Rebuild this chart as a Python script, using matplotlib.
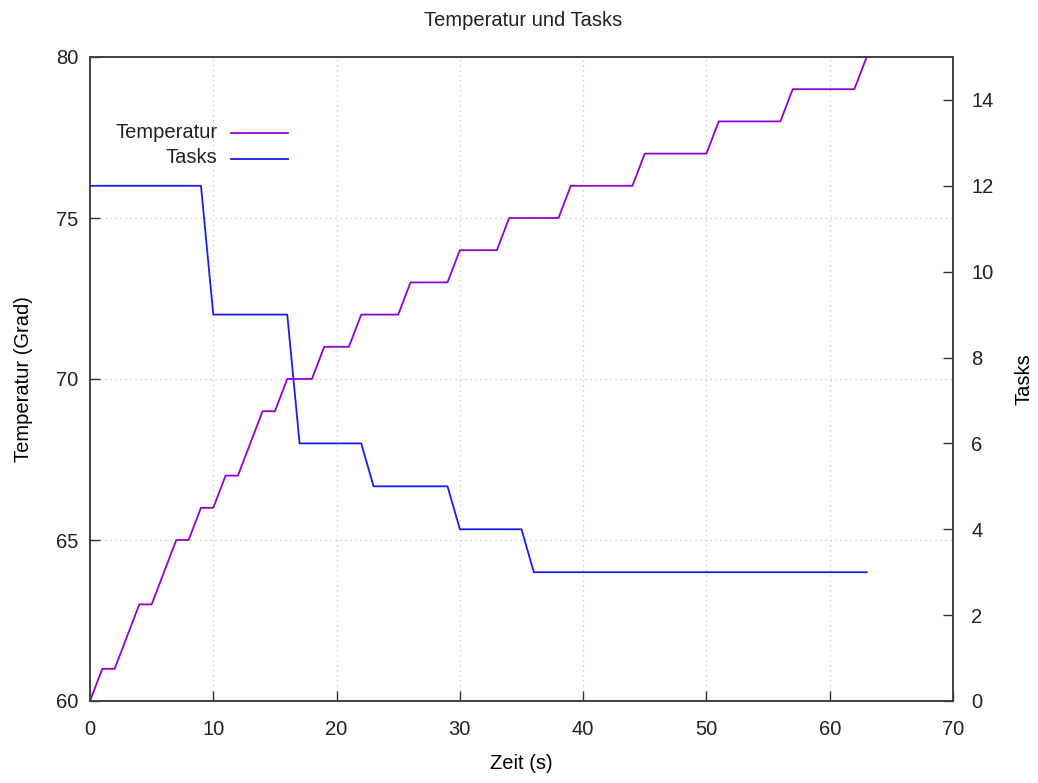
import numpy as np
import matplotlib.pyplot as plt
from matplotlib.lines import Line2D

# Zeit in Sekunden, ein Messwert pro Sekunde
zeit = list(range(0, 64))
temperatur = [60, 61, 61, 62, 63, 63, 64, 65, 65, 66,
              66, 67, 67, 68, 69, 69, 70, 70, 70, 71,
              71, 71, 72, 72, 72, 72, 73, 73, 73, 73,
              74, 74, 74, 74, 75, 75, 75, 75, 75, 76,
              76, 76, 76, 76, 76, 77, 77, 77, 77, 77,
              77, 78, 78, 78, 78, 78, 78, 79, 79, 79,
              79, 79, 79, 80]
tasks = [12, 12, 12, 12, 12, 12, 12, 12, 12, 12,
         9, 9, 9, 9, 9, 9, 9, 6, 6, 6,
         6, 6, 6, 5, 5, 5, 5, 5, 5, 5,
         4, 4, 4, 4, 4, 4, 3, 3, 3, 3,
         3, 3, 3, 3, 3, 3, 3, 3, 3, 3,
         3, 3, 3, 3, 3, 3, 3, 3, 3, 3,
         3, 3, 3, 3]

x_ticks = [0, 10, 20, 30, 40, 50, 60, 70]
y1_ticks = [60, 65, 70, 75, 80]
y2_ticks = [0, 2, 4, 6, 8, 10, 12, 14]

col_temp = '#9400d3'
col_tasks = '#1c1cf5'

plt.rcParams['font.family'] = ['Liberation Sans', 'DejaVu Sans']
plt.rcParams['font.size'] = 14.5
plt.rcParams['text.color'] = '#222222'
plt.rcParams['xtick.color'] = '#333333'
plt.rcParams['ytick.color'] = '#333333'
plt.rcParams['xtick.labelcolor'] = '#222222'
plt.rcParams['ytick.labelcolor'] = '#222222'

fig = plt.figure(figsize=(10.38, 7.83), dpi=100)
ax = fig.add_axes([90/1038, 1 - 701/783, (953-90)/1038, (701-57)/783])
ax2 = ax.twinx()

ax.plot(zeit, temperatur, color=col_temp, lw=1.3)
ax2.plot(zeit, tasks, color=col_tasks, lw=1.3)

ax.set_xlim(0, 70)
ax.set_ylim(60, 80)
ax2.set_ylim(0, 15)
ax.set_xticks(x_ticks)
ax.set_yticks(y1_ticks)
ax2.set_yticks(y2_ticks)

ax.grid(True, color='#c4c4c4', linestyle=(0, (1, 3)), lw=0.9)
ax.tick_params(axis='x', direction='in', length=7, width=1, pad=14)
ax.tick_params(axis='y', direction='in', length=7, width=1, pad=8.4)
ax2.tick_params(axis='y', direction='in', length=7, width=1, pad=13.3)
for a in (ax, ax2):
    for s in a.spines.values():
        s.set_color('#404040')
        s.set_linewidth(1.2)

ax.set_xlabel('Zeit (s)')
ax.xaxis.set_label_coords(0.5, -0.082)
ax.set_ylabel('Temperatur (Grad)')
ax.yaxis.set_label_coords(-0.0657, 0.5)
ax2.set_ylabel('Tasks')
ax2.yaxis.set_label_coords(1.0718, 0.5)
fig.text(523/1038, 1 - 21/783, 'Temperatur und Tasks', ha='center', va='center')

# Legende oben links, Text rechtsbuendig wie bei gnuplot
leg_items = [('Temperatur', col_temp, 0.8815), ('Tasks', col_tasks, 0.8416)]
for label, c, yy in leg_items:
    ax.text(0.148, yy + 0.002, label, transform=ax.transAxes, ha='right', va='center')
    ax.add_line(Line2D([0.163, 0.230], [yy, yy], transform=ax.transAxes, color=c, lw=1.3))

fig.savefig('out.png', dpi=100)
